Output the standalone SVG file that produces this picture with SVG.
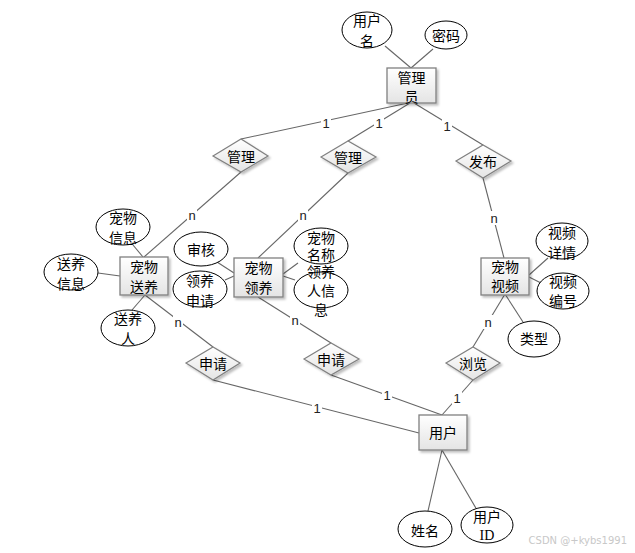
<svg xmlns="http://www.w3.org/2000/svg" width="635" height="553" viewBox="0 0 635 553">
<style>
.ent{fill:url(#g);stroke:#808080;stroke-width:1.3;filter:url(#sh)}
.rel{fill:url(#g);stroke:#808080;stroke-width:1.2;filter:url(#sh)}
.att{fill:#fff;stroke:#000;stroke-width:1}
.t{font-family:"Noto Sans CJK SC","Liberation Sans",sans-serif;font-size:14px;fill:#000;text-anchor:middle;dominant-baseline:central}
.c line{stroke:#666;stroke-width:1.1}
.lb{font-family:"Liberation Sans",sans-serif;font-size:13px;fill:#222;text-anchor:middle;dominant-baseline:central}
.lbg{fill:#fff}
.wm{font-family:"DejaVu Sans",sans-serif;font-size:10px;fill:#c8c8c8;text-anchor:end}
</style>
<defs>
<linearGradient id="g" x1="0" y1="0" x2="0" y2="1">
<stop offset="0" stop-color="#ffffff"/>
<stop offset="1" stop-color="#e4e4e4"/>
</linearGradient>
<filter id="sh" x="-20%" y="-20%" width="150%" height="150%">
<feDropShadow dx="2" dy="2" stdDeviation="1.2" flood-color="#000" flood-opacity="0.25"/>
</filter>
</defs>
<rect width="635" height="553" fill="#fff"/>
<g id="connectors" class="c">
<line x1="385" y1="46" x2="411" y2="68"/>
<line x1="433" y1="49" x2="411" y2="68"/>
<line x1="408" y1="103" x2="241" y2="139"/>
<line x1="410" y1="103" x2="348" y2="141"/>
<line x1="414" y1="103" x2="483" y2="145"/>
<line x1="241" y1="172" x2="144" y2="257"/>
<line x1="348" y1="173" x2="258" y2="258"/>
<line x1="483" y1="178" x2="504" y2="258"/>
<line x1="133" y1="245" x2="143" y2="257"/>
<line x1="98" y1="273" x2="120" y2="276"/>
<line x1="145" y1="295" x2="132" y2="310"/>
<line x1="145" y1="295" x2="213" y2="347"/>
<line x1="217" y1="262" x2="234" y2="273"/>
<line x1="225" y1="280" x2="234" y2="276"/>
<line x1="283" y1="274" x2="298" y2="263"/>
<line x1="283" y1="276" x2="295" y2="280"/>
<line x1="258" y1="297" x2="331" y2="343"/>
<line x1="529" y1="275" x2="548" y2="258"/>
<line x1="529" y1="277" x2="541" y2="283"/>
<line x1="505" y1="294" x2="523" y2="322"/>
<line x1="505" y1="294" x2="473" y2="347"/>
<line x1="213" y1="380" x2="419" y2="433"/>
<line x1="331" y1="375" x2="442" y2="415"/>
<line x1="473" y1="380" x2="442" y2="415"/>
<line x1="442" y1="450" x2="428" y2="511"/>
<line x1="442" y1="450" x2="477" y2="510"/>
<g id="labels">
<rect class="lbg" x="321" y="116" width="10" height="14"/><text class="lb" x="326" y="123">1</text>
<rect class="lbg" x="374" y="116" width="10" height="14"/><text class="lb" x="379" y="123">1</text>
<rect class="lbg" x="442" y="119" width="10" height="14"/><text class="lb" x="447" y="126">1</text>
<rect class="lbg" x="187" y="208" width="10" height="14"/><text class="lb" x="192" y="215">n</text>
<rect class="lbg" x="298" y="208" width="10" height="14"/><text class="lb" x="303" y="215">n</text>
<rect class="lbg" x="489" y="211" width="10" height="14"/><text class="lb" x="494" y="218">n</text>
<rect class="lbg" x="173" y="315" width="10" height="14"/><text class="lb" x="178" y="322">n</text>
<rect class="lbg" x="290" y="313" width="10" height="14"/><text class="lb" x="295" y="320">n</text>
<rect class="lbg" x="483" y="315" width="10" height="14"/><text class="lb" x="488" y="322">n</text>
<rect class="lbg" x="312" y="401" width="10" height="14"/><text class="lb" x="317" y="408">1</text>
<rect class="lbg" x="382" y="388" width="10" height="14"/><text class="lb" x="387" y="395">1</text>
<rect class="lbg" x="452" y="391" width="10" height="14"/><text class="lb" x="457" y="398">1</text>
</g>
</g>
<g id="admin"><rect class="ent" x="387" y="68" width="49" height="35"/><text class="t" x="411.5" y="77">管理</text><text class="t" x="411.5" y="96">员</text></g>
<g id="username"><ellipse class="att" cx="367" cy="30" rx="25" ry="18"/><text class="t" x="367" y="20">用户</text><text class="t" x="367" y="40">名</text></g>
<g id="password"><ellipse class="att" cx="446" cy="35" rx="21" ry="14"/><text class="t" x="446" y="35">密码</text></g>
<g id="rel-manage1"><polygon class="rel" points="213,156 241,139 268,156 241,172"/><text class="t" x="241" y="156">管理</text></g>
<g id="rel-manage2"><polygon class="rel" points="321,157 348,141 376,157 348,173"/><text class="t" x="348" y="157">管理</text></g>
<g id="rel-publish"><polygon class="rel" points="456,161 483,145 511,161 483,178"/><text class="t" x="483" y="161">发布</text></g>
<g id="pet-giveaway"><rect class="ent" x="120" y="257" width="48" height="38"/><text class="t" x="144" y="266">宠物</text><text class="t" x="144" y="286">送养</text></g>
<g id="pet-info"><ellipse class="att" cx="123" cy="227" rx="27" ry="18"/><text class="t" x="123" y="217">宠物</text><text class="t" x="123" y="237">信息</text></g>
<g id="giveaway-info"><ellipse class="att" cx="71" cy="272" rx="27" ry="18"/><text class="t" x="71" y="263">送养</text><text class="t" x="71" y="283">信息</text></g>
<g id="giver"><ellipse class="att" cx="128" cy="328" rx="27" ry="18"/><text class="t" x="128" y="318">送养</text><text class="t" x="128" y="338">人</text></g>
<g id="review"><ellipse class="att" cx="201" cy="249" rx="27" ry="17"/><text class="t" x="201" y="249">审核</text></g>
<g id="adopt-apply"><ellipse class="att" cx="200" cy="289" rx="27" ry="18"/><text class="t" x="200" y="280">领养</text><text class="t" x="200" y="300">申请</text></g>
<g id="pet-adopt"><rect class="ent" x="234" y="258" width="49" height="39"/><text class="t" x="258.5" y="267">宠物</text><text class="t" x="258.5" y="287">领养</text></g>
<g id="pet-name"><ellipse class="att" cx="321" cy="246" rx="27" ry="18"/><text class="t" x="321" y="237">宠物</text><text class="t" x="321" y="254">名称</text></g>
<g id="adopter-info"><ellipse class="att" cx="321" cy="290" rx="27" ry="18"/><text class="t" x="321" y="271">领养</text><text class="t" x="321" y="290">人信</text><text class="t" x="321" y="309">息</text></g>
<g id="pet-video"><rect class="ent" x="481" y="258" width="48" height="37"/><text class="t" x="505" y="266">宠物</text><text class="t" x="505" y="285">视频</text></g>
<g id="video-detail"><ellipse class="att" cx="562" cy="241" rx="26" ry="18"/><text class="t" x="562" y="232">视频</text><text class="t" x="562" y="252">详情</text></g>
<g id="video-no"><ellipse class="att" cx="563" cy="291" rx="26" ry="18"/><text class="t" x="563" y="281">视频</text><text class="t" x="563" y="300">编号</text></g>
<g id="type"><ellipse class="att" cx="534" cy="339" rx="26" ry="18"/><text class="t" x="534" y="338">类型</text></g>
<g id="rel-apply1"><polygon class="rel" points="186,363 213,347 240,363 213,380"/><text class="t" x="213" y="363">申请</text></g>
<g id="rel-apply2"><polygon class="rel" points="304,359 331,343 359,359 331,375"/><text class="t" x="331" y="359">申请</text></g>
<g id="rel-browse"><polygon class="rel" points="446,363 473,347 500,363 473,380"/><text class="t" x="473" y="363">浏览</text></g>
<g id="user"><rect class="ent" x="419" y="415" width="48" height="35"/><text class="t" x="443" y="432">用户</text></g>
<g id="name"><ellipse class="att" cx="425" cy="529" rx="27" ry="18"/><text class="t" x="425" y="530">姓名</text></g>
<g id="user-id"><ellipse class="att" cx="487" cy="525" rx="26" ry="18"/><text class="t" x="487" y="516">用户</text><text class="t" x="487" y="535" style="font-family:'Liberation Serif',serif">ID</text></g>
<text class="wm" x="627" y="544">CSDN @+kybs1991</text>
</svg>
